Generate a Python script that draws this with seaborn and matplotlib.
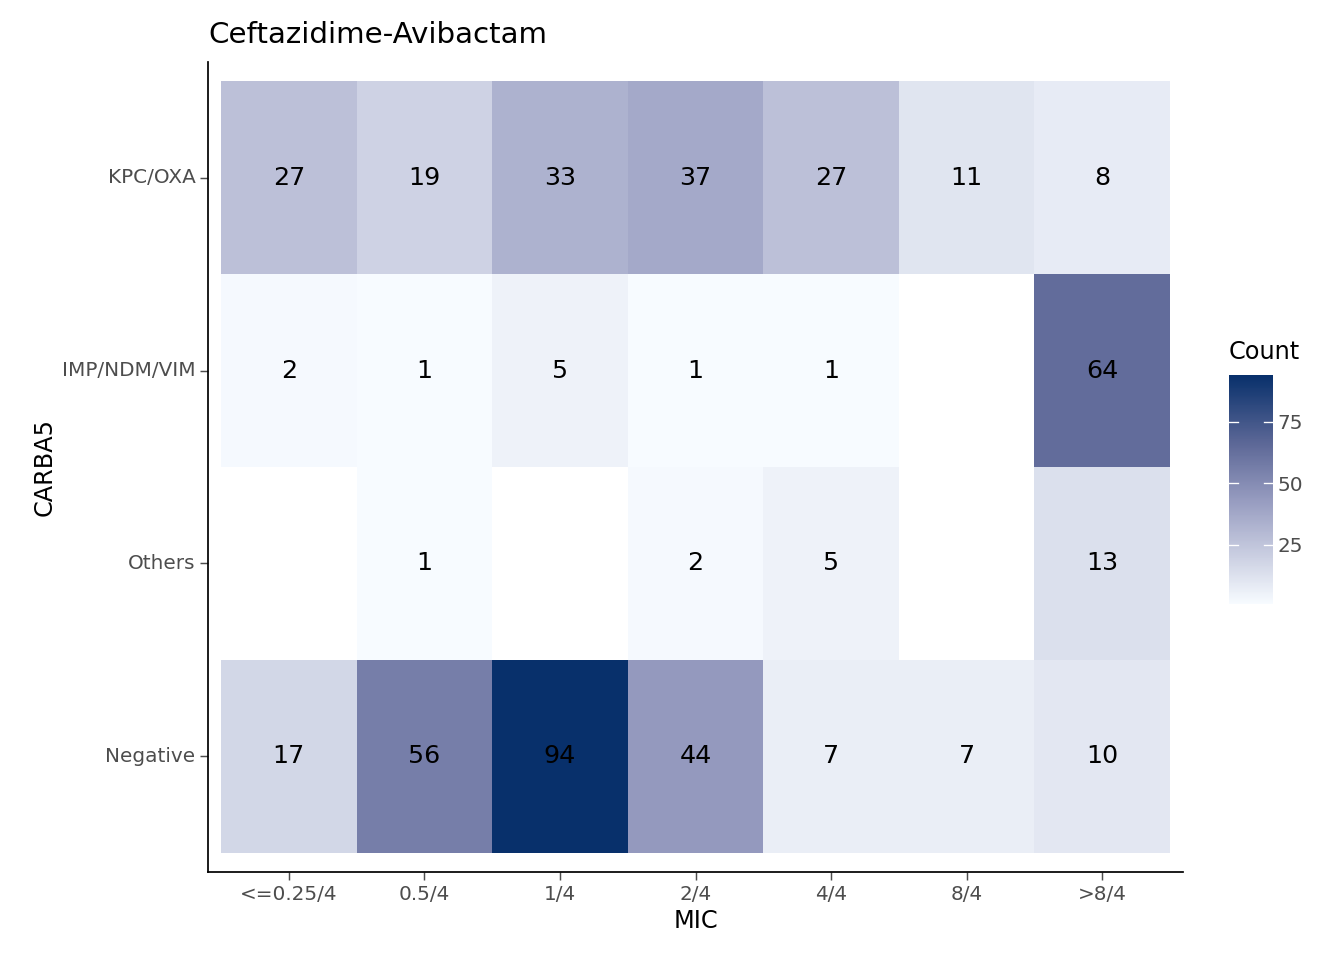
import numpy as np
import pandas as pd
import matplotlib
matplotlib.use("Agg")
import matplotlib.pyplot as plt
import seaborn as sns
from matplotlib.colors import LinearSegmentedColormap

# --- DATA ---
mic = ['<=0.25/4', '0.5/4', '1/4', '2/4', '4/4', '8/4', '>8/4']
carba = ['KPC/OXA', 'IMP/NDM/VIM', 'Others', 'Negative']
kpc = [27, 19, 33, 37, 27, 11, 8]
imp = [2, 1, 5, 1, 1, np.nan, 64]
others = [np.nan, 1, np.nan, 2, 5, np.nan, 13]
negative = [17, 56, 94, 44, 7, 7, 10]

df = pd.DataFrame([kpc, imp, others, negative], index=carba, columns=mic)

cmap = LinearSegmentedColormap.from_list(
    "cnt", [(0, "#F7FBFF"), (0.45, "#979CC0"), (0.7, "#5D6897"), (1, "#08306B")])

fig = plt.figure(figsize=(14, 10), dpi=96)
ax = fig.add_axes([0.1548, 0.0917, 0.7254, 0.84375])
cax = fig.add_axes([0.9144, 0.3708, 0.0327, 0.2385])

sns.heatmap(df, ax=ax, cmap=cmap, vmin=1, vmax=94, annot=True, fmt='.0f',
            annot_kws={'size': 19, 'color': 'black'}, cbar_ax=cax,
            cbar_kws={'ticks': [25, 50, 75]})

ax.set_xlim(-0.096, 7.096)
ax.set_ylim(4.1, -0.1)
for s in ['left', 'bottom']:
    ax.spines[s].set_visible(True)
    ax.spines[s].set_color('black')
    ax.spines[s].set_linewidth(1.3)
ax.tick_params(axis='both', colors='#4D4D4D', labelsize=15, length=6, width=1.1)
ax.tick_params(axis='y', rotation=0)
ax.tick_params(axis='x', rotation=0)
ax.set_xlabel('MIC', fontsize=18, color='black')
ax.set_ylabel('CARBA5', fontsize=18, color='black')
ax.set_title('Ceftazidime-Avibactam', fontsize=22, loc='left', pad=14)

cax.tick_params(labelsize=15, colors='#4D4D4D', length=0)
for t in [25, 50, 75]:
    cax.axhline(t, xmin=0, xmax=0.2, color='white', lw=1)
    cax.axhline(t, xmin=0.8, xmax=1, color='white', lw=1)
cax.set_title('Count', fontsize=18, loc='left', pad=12)
for s in cax.spines.values():
    s.set_visible(False)

fig.savefig("out.png", dpi=96)
